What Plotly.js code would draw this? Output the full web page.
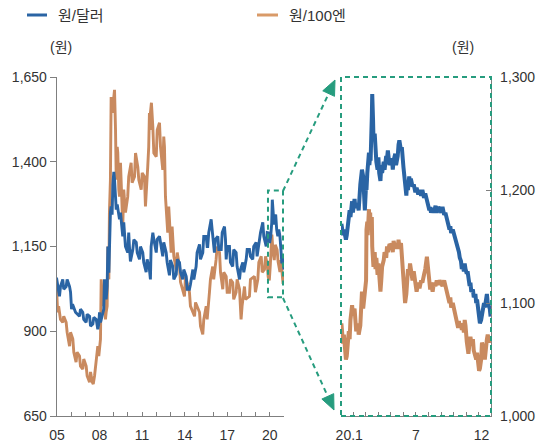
<!DOCTYPE html>
<html>
<head>
<meta charset="utf-8">
<script src="https://cdn.plot.ly/plotly-3.0.1.min.js"></script>
<style>html,body{margin:0;padding:0;background:#fff;}#chart{width:545px;height:444px;}</style>
</head>
<body>
<div id="chart"></div>
<script>
// ---- Left panel: 2005–2020 (decimal years), band readings (low/high) ----
const usdT = [2005.00,2005.21,2005.44,2005.68,2005.92,2006.06,2006.27,2006.62,2006.85,2007.09,2007.33,2007.56,2007.80,2007.91,2008.03,2008.26,2008.38,2008.50,2008.62,2008.73,2008.85,2008.97,2009.09,2009.21,2009.32,2009.44,2009.56,2009.67,2009.79,2010.02,2010.14,2010.38,2010.62,2010.85,2011.08,2011.32,2011.55,2011.67,2011.79,2012.03,2012.26,2012.49,2012.73,2012.96,2013.20,2013.44,2013.67,2013.90,2014.14,2014.37,2014.61,2014.84,2015.08,2015.31,2015.55,2015.66,2015.90,2016.13,2016.37,2016.61,2016.84,2016.96,2017.19,2017.42,2017.66,2017.90,2018.13,2018.37,2018.60,2018.83,2019.07,2019.31,2019.54,2019.78,2019.95,2020.10,2020.21,2020.33,2020.45,2020.60,2020.75,2020.88,2020.97];
const usdLo = [1040,1003,1024,1032,1015,965,956,944,935,926,915,921,912,906,926,956,1003,994,1073,1150,1244,1332,1297,1259,1244,1230,1200,1180,1150,1132,1106,1141,1132,1112,1103,1074,1053,1150,1171,1132,1162,1121,1103,1065,1053,1068,1074,1053,1024,1024,1053,1091,1112,1132,1150,1150,1200,1132,1141,1141,1171,1112,1103,1091,1091,1053,1074,1112,1121,1112,1121,1171,1180,1150,1160,1180,1250,1215,1200,1180,1140,1100,1082];
const usdHi = [1058,1032,1053,1053,1032,980,965,965,956,950,944,941,935,921,956,965,1053,1032,1150,1250,1268,1370,1347,1274,1259,1250,1221,1221,1180,1191,1150,1170,1162,1150,1132,1112,1082,1180,1191,1171,1180,1162,1132,1110,1091,1112,1103,1082,1062,1038,1082,1132,1156,1180,1180,1191,1230,1171,1180,1191,1209,1150,1150,1141,1132,1082,1103,1141,1141,1150,1162,1191,1221,1191,1190,1220,1288,1240,1244,1200,1180,1128,1100];

const jpyT = [2005.00,2005.08,2005.21,2005.44,2005.68,2005.92,2006.15,2006.38,2006.62,2006.85,2007.09,2007.33,2007.52,2007.68,2007.91,2008.03,2008.15,2008.26,2008.38,2008.50,2008.62,2008.73,2008.85,2008.97,2009.09,2009.21,2009.32,2009.44,2009.56,2009.67,2009.79,2010.02,2010.26,2010.50,2010.73,2010.97,2011.20,2011.43,2011.55,2011.62,2011.79,2012.03,2012.26,2012.49,2012.61,2012.84,2012.96,2013.08,2013.20,2013.44,2013.67,2014.02,2014.37,2014.73,2015.08,2015.31,2015.55,2015.78,2016.01,2016.25,2016.49,2016.72,2016.96,2017.19,2017.42,2017.66,2017.90,2018.01,2018.25,2018.60,2018.95,2019.19,2019.43,2019.66,2019.85,2020.00,2020.18,2020.35,2020.55,2020.75,2020.90,2020.97];
const jpyLo = [974,956,935,926,897,856,838,809,797,788,768,750,744,768,827,856,1003,974,935,956,1053,1250,1544,1562,1494,1347,1318,1297,1268,1209,1250,1297,1338,1356,1347,1318,1268,1385,1494,1544,1426,1415,1444,1376,1297,1191,1171,1132,1121,1082,1045,1003,974,944,915,891,935,1015,1053,1112,1074,1024,1015,1015,994,1015,974,935,994,1003,1015,1053,1074,1082,1060,1050,1140,1110,1105,1075,1040,1050];
const jpyHi = [1032,974,956,944,926,897,877,838,827,818,797,780,750,797,856,877,1053,1032,985,974,1150,1347,1591,1603,1612,1444,1426,1397,1347,1318,1297,1356,1397,1426,1385,1367,1356,1444,1544,1574,1503,1494,1515,1474,1444,1268,1230,1209,1171,1132,1091,1062,1015,985,956,935,974,1053,1091,1150,1132,1074,1062,1053,1044,1053,1024,974,1032,1053,1062,1103,1121,1121,1100,1095,1185,1155,1140,1110,1065,1070];

// ---- Right panel: 2020 ----
const rDays = ['01-02','01-06','01-08','01-10','01-13','01-15','01-17','01-20','01-22','01-24','01-28','01-30',
'02-03','02-05','02-07','02-11','02-13','02-17','02-19','02-21','02-24','02-26','02-28',
'03-02','03-03','03-05','03-06','03-09','03-10','03-12','03-13','03-16','03-17','03-19','03-20','03-23','03-25','03-27','03-30',
'04-01','04-03','04-06','04-08','04-10','04-14','04-16','04-20','04-22','04-24','04-28',
'05-04','05-06','05-08','05-12','05-14','05-18','05-20','05-22','05-26','05-28',
'06-01','06-03','06-05','06-08','06-10','06-12','06-15','06-17','06-19','06-23','06-26','06-30',
'07-03','07-07','07-10','07-14','07-17','07-21','07-24','07-28','07-30',
'08-03','08-05','08-07','08-11','08-14','08-18','08-21','08-25','08-28',
'09-01','09-04','09-08','09-11','09-15','09-17','09-21','09-23','09-25','09-29',
'10-05','10-08','10-12','10-14','10-16','10-19','10-21','10-23','10-26','10-28','10-30',
'11-02','11-04','11-06','11-09','11-11','11-13','11-17','11-19','11-23','11-25','11-27','11-30',
'12-02','12-04','12-07','12-09','12-11','12-14','12-16','12-18','12-21','12-23','12-28','12-30'];
const usd2020 = [1170,1160,1165,1160,1156,1160,1166,1170,1182,1176,1190,1180,
1192,1184,1188,1186,1182,1205,1215,1218,1212,1190,1182,
1205,1200,1215,1224,1233,1222,1230,1226,1265,1285,1262,1245,1250,1232,1225,1218,
1229,1215,1208,1222,1215,1225,1218,1230,1228,1235,1222,
1228,1218,1226,1232,1222,1230,1240,1244,1235,1238,
1220,1212,1198,1195,1208,1200,1212,1206,1210,1203,1205,1198,
1202,1196,1200,1195,1200,1193,1197,1190,1186,
1182,1185,1180,1184,1180,1186,1180,1185,1182,
1180,1185,1178,1180,1173,1170,1165,1168,1162,1165,
1158,1152,1150,1145,1140,1137,1130,1134,1128,1135,1130,
1126,1128,1120,1115,1118,1110,1112,1105,1108,1100,1103,1095,
1090,1082,1085,1090,1095,1100,1096,1102,1108,1100,1095,1088];
const jpy2020 = [1082,1064,1072,1058,1050,1053,1062,1075,1068,1085,1098,1090,
1095,1080,1075,1082,1072,1080,1092,1110,1095,1105,1112,
1120,1165,1172,1160,1183,1172,1180,1165,1176,1150,1140,1132,1145,1130,1140,1125,
1135,1128,1110,1120,1132,1138,1145,1140,1150,1145,1152,
1150,1145,1155,1148,1153,1148,1156,1150,1153,1140,
1128,1112,1100,1108,1122,1130,1125,1135,1130,1120,1128,1115,
1110,1118,1113,1120,1118,1125,1130,1141,1135,
1120,1112,1118,1110,1118,1115,1120,1116,1120,
1118,1115,1120,1116,1108,1105,1100,1105,1096,1100,
1090,1085,1078,1084,1078,1082,1076,1082,1074,1085,1080,
1066,1062,1055,1065,1070,1065,1068,1058,1054,1050,1056,1045,
1040,1042,1050,1065,1062,1058,1050,1060,1068,1072,1065,1070];

const leftTickVals = [2005,2006,2007,2008,2009,2010,2011,2012,2013,2014,2015,2016,2017,2018,2019,2020,2021];
const leftTickText = ['05','','','08','','','11','','','14','','','17','','','20',''];
const leftYTicks = [650,900,1150,1400,1650];
const rightYTicks = [1000,1100,1200,1300];
const rightTickVals = ['2020-01-21','2020-07-01','2020-12-08'];
const rightTickText = ['20.1','7','12'];
const seriesNames = ['원/달러','원/100엔'];

// ---- styling ----
const BLUE = '#2a64a4', ORANGE = '#c98a5f', GREEN = '#269c7e', AX = '#7f7f7f', TXT = '#333333';
const FONT = 'Liberation Sans, Arial, Noto Sans CJK KR, sans-serif';
const ML = 57, MR = 54, MT = 77, MB = 28, W = 545, H = 444;
const PW = W - ML - MR, PH = H - MT - MB;
const px = v => (v - ML) / PW;
const py = v => (H - MB - v) / PH;

function band(t, lo, hi, dt) {
  const x = [], y = [];
  for (let i = 0; i < t.length; i++) {
    x.push(t[i] - dt, t[i] + dt);
    if (i % 2 === 0) { y.push(hi[i], lo[i]); } else { y.push(lo[i], hi[i]); }
  }
  return {x, y};
}
const jb = band(jpyT, jpyLo, jpyHi, 0.035);
const ub = band(usdT, usdLo, usdHi, 0.035);
const rX = rDays.map(d => '2020-' + d);

const traces = [
  {x: jb.x, y: jb.y, xaxis: 'x', yaxis: 'y', mode: 'lines', name: seriesNames[1], line: {color: ORANGE, width: 2.9}},
  {x: ub.x, y: ub.y, xaxis: 'x', yaxis: 'y', mode: 'lines', name: seriesNames[0], line: {color: BLUE, width: 2.9}},
  {x: rX, y: jpy2020, xaxis: 'x2', yaxis: 'y2', mode: 'lines', name: seriesNames[1], line: {color: ORANGE, width: 4}},
  {x: rX, y: usd2020, xaxis: 'x2', yaxis: 'y2', mode: 'lines', name: seriesNames[0], line: {color: BLUE, width: 4}}
];

function arrowShapes(sx, sy, tx, ty) {
  const dx = tx - sx, dy = ty - sy, L = Math.hypot(dx, dy);
  const ux = dx / L, uy = dy / L, nx = -uy, ny = ux;
  const hl = 15, hw = 6.5;
  const bx = tx - ux * hl, by = ty - uy * hl;
  return [
    {type: 'line', xref: 'paper', yref: 'paper', x0: px(sx), y0: py(sy), x1: px(bx), y1: py(by),
     line: {color: GREEN, width: 2, dash: '5px,4px'}},
    {type: 'path', xref: 'paper', yref: 'paper',
     path: `M ${px(tx)},${py(ty)} L ${px(bx + nx * hw)},${py(by + ny * hw)} L ${px(bx - nx * hw)},${py(by - ny * hw)} Z`,
     fillcolor: GREEN, line: {color: GREEN, width: 1}}
  ];
}

const shapes = [
  {type: 'rect', xref: 'paper', yref: 'paper', x0: px(341), x1: px(491), y0: 0, y1: 1,
   line: {color: GREEN, width: 2, dash: '5px,4px'}},
  {type: 'rect', xref: 'x', yref: 'y', x0: 2019.87, x1: 2020.93, y0: 1000, y1: 1315,
   line: {color: GREEN, width: 2, dash: '5px,4px'}},
  ...arrowShapes(283, 191, 335, 80),
  ...arrowShapes(283, 298, 334, 410),
  {type: 'line', xref: 'paper', yref: 'paper', x0: px(27), x1: px(47), y0: py(15), y1: py(15), line: {color: BLUE, width: 3}},
  {type: 'line', xref: 'paper', yref: 'paper', x0: px(257), x1: px(278), y0: py(15), y1: py(15), line: {color: '#d99a68', width: 3}}
];

const annotations = [
  {xref: 'paper', yref: 'paper', x: px(56), y: py(15), xanchor: 'left', yanchor: 'middle', text: seriesNames[0], showarrow: false, font: {size: 15, color: TXT}},
  {xref: 'paper', yref: 'paper', x: px(287), y: py(15), xanchor: 'left', yanchor: 'middle', text: seriesNames[1], showarrow: false, font: {size: 15, color: TXT}},
  {xref: 'paper', yref: 'paper', x: px(61), y: py(47), xanchor: 'center', yanchor: 'middle', text: '(원)', showarrow: false, font: {size: 14, color: TXT}},
  {xref: 'paper', yref: 'paper', x: px(463), y: py(47), xanchor: 'center', yanchor: 'middle', text: '(원)', showarrow: false, font: {size: 14, color: TXT}}
];

const layout = {
  width: W, height: H,
  margin: {l: ML, r: MR, t: MT, b: MB},
  paper_bgcolor: '#fff', plot_bgcolor: 'rgba(0,0,0,0)',
  showlegend: false,
  font: {family: FONT, size: 14, color: TXT},
  xaxis: {domain: [0, px(284)], range: [2005, 2021], tickmode: 'array', tickvals: leftTickVals, ticktext: leftTickText,
          ticks: 'inside', ticklen: 4, tickcolor: AX, tickwidth: 1, showline: true, linecolor: AX, linewidth: 1.3,
          showgrid: false, zeroline: false, anchor: 'y', ticklabelstandoff: 6},
  yaxis: {domain: [0, 1], range: [650, 1650], tickmode: 'array', tickvals: leftYTicks, tickformat: ',d',
          ticks: 'outside', ticklen: 6, tickcolor: AX, showline: true, linecolor: AX, linewidth: 1.3,
          showgrid: false, zeroline: false, anchor: 'x'},
  xaxis2: {domain: [px(341), 1], type: 'date', range: ['2020-01-01', '2020-12-31'], anchor: 'y2',
           tickmode: 'array', tickvals: rightTickVals, ticktext: rightTickText, ticks: '',
           minor: {tick0: '2020-01-01', dtick: 'M1', ticks: 'inside', ticklen: 4, tickcolor: AX, showgrid: false},
           showline: true, linecolor: AX, linewidth: 1.3, showgrid: false, zeroline: false, ticklabelstandoff: 6},
  yaxis2: {domain: [0, 1], range: [1000, 1300], anchor: 'x2', side: 'right', tickmode: 'array', tickvals: rightYTicks,
           tickformat: ',d', ticks: 'inside', ticklen: 5, tickcolor: AX, showline: true, linecolor: AX, linewidth: 1.3,
           showgrid: false, zeroline: false, ticklabelstandoff: 5},
  shapes: shapes,
  annotations: annotations
};

Plotly.newPlot('chart', traces, layout, {displayModeBar: false, staticPlot: true});
</script>
</body>
</html>
